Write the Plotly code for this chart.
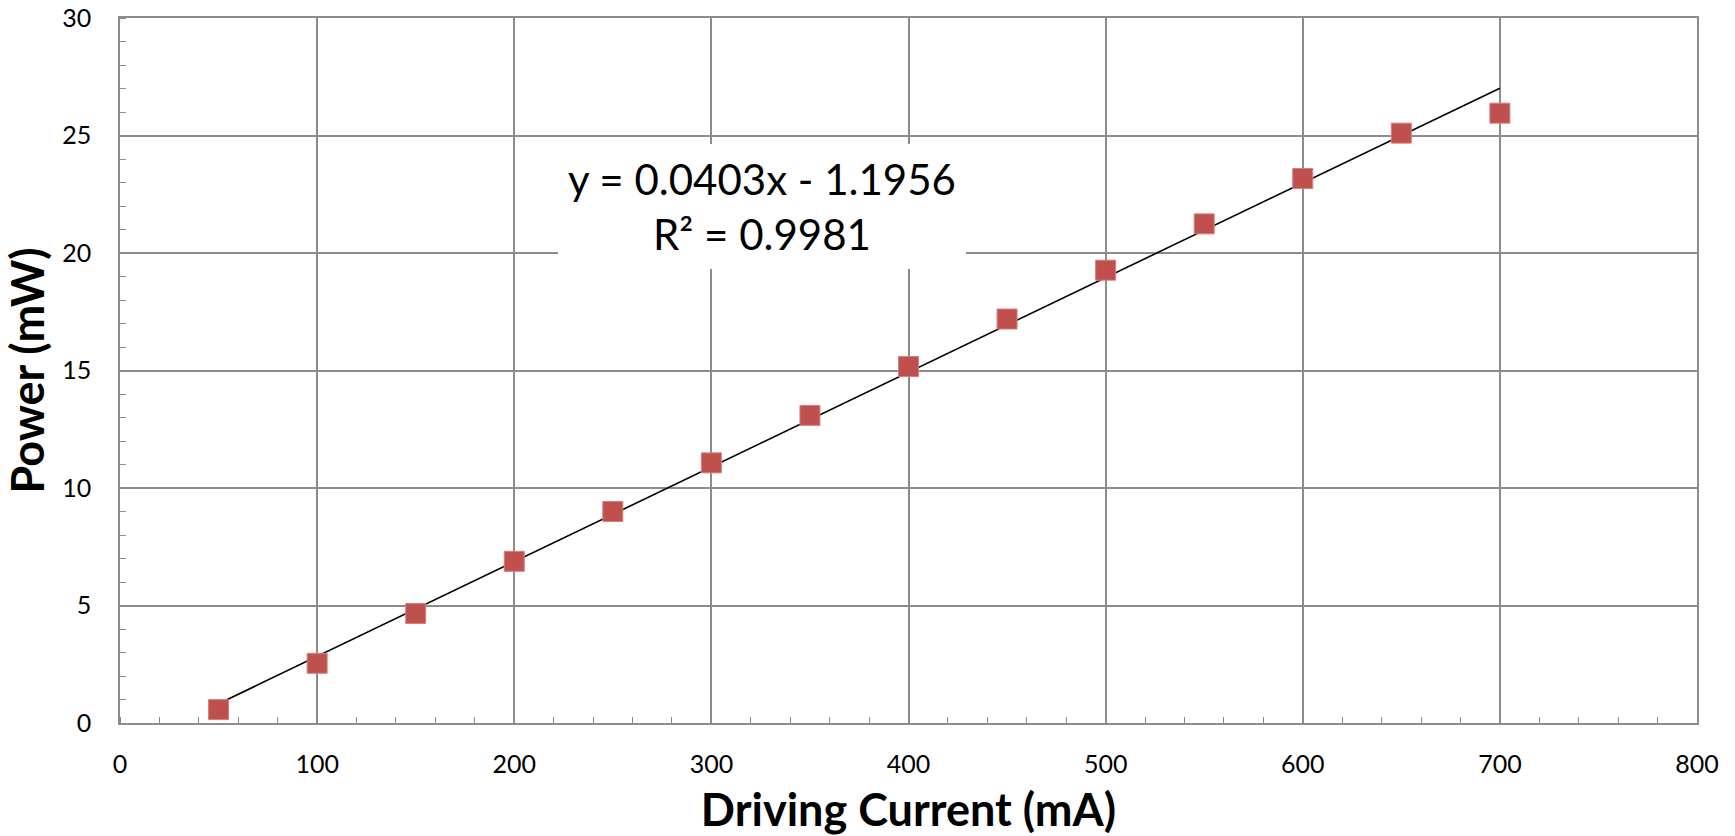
import numpy as np
import plotly.graph_objects as go

# Data
current_mA = [50, 100, 150, 200, 250, 300, 350, 400, 450, 500, 550, 600, 650, 700]
power_mW = [0.57, 2.54, 4.66, 6.88, 9.0, 11.07, 13.09, 15.17, 17.19, 19.27, 21.24, 23.17, 25.1, 25.95]

# Linear trendline coefficients shown on the chart
trend_slope = 0.0403
trend_intercept = -1.1956
trend_r2 = 0.9981

x_ticks = [0, 100, 200, 300, 400, 500, 600, 700, 800]
y_ticks = [0, 5, 10, 15, 20, 25, 30]

trend_x = np.array([min(current_mA), max(current_mA)], dtype=float)
trend_y = trend_slope * trend_x + trend_intercept

GRID = "#8c8c8c"
FONT = "Lato"

fig = go.Figure()
fig.add_trace(go.Scatter(
    x=trend_x, y=trend_y, mode="lines",
    line=dict(color="black", width=1.6), showlegend=False, hoverinfo="skip",
))
fig.add_trace(go.Scatter(
    x=current_mA, y=power_mW, mode="markers",
    marker=dict(symbol="square", size=20, color="#C0504D",
                line=dict(color="#D2807E", width=1)),
    showlegend=False,
))

eq_text = f"y = {trend_slope:.4f}x - {abs(trend_intercept):.4f}<br>R² = {trend_r2:.4f}"
fig.add_annotation(
    x=325.7, y=22.0, xref="x", yref="y", text=eq_text, showarrow=False,
    font=dict(family=FONT, size=42, color="black"), align="center",
    bgcolor="white", borderpad=10, borderwidth=0,
)

axis_common = dict(
    showgrid=True, gridcolor=GRID, gridwidth=1.6,
    showline=True, linecolor=GRID, linewidth=1.6, mirror=True,
    ticks="", zeroline=False,
    tickfont=dict(family=FONT, size=25, color="black"),
)

fig.update_xaxes(
    range=[0, 800], tickvals=x_ticks, ticktext=[str(v) for v in x_ticks],
    minor=dict(ticks="inside", ticklen=6, tickcolor=GRID, tickwidth=1.4, dtick=20, tick0=0, showgrid=False),
    ticklabelstandoff=18,
    title=dict(text="<b>Driving Current (mA)</b>", font=dict(family=FONT, size=45, color="black"), standoff=20),
    **axis_common,
)
fig.update_yaxes(
    range=[0, 30], tickvals=y_ticks, ticktext=[str(v) for v in y_ticks],
    minor=dict(ticks="inside", ticklen=6, tickcolor=GRID, tickwidth=1.4, dtick=1, tick0=0, showgrid=False),
    ticklabelstandoff=22,
    title=dict(text="<b>Power (mW)</b>", font=dict(family=FONT, size=45, color="black"), standoff=16),
    **axis_common,
)

fig.update_layout(
    width=1735, height=836,
    margin=dict(l=120, r=38, t=18, b=113, autoexpand=False),
    plot_bgcolor="white", paper_bgcolor="white",
    font=dict(family=FONT, color="black"),
)

fig.write_html(
    "out.html",
    config={"displayModeBar": False},
    post_script="document.body.style.margin='0px';document.body.style.overflow='hidden';",
)
